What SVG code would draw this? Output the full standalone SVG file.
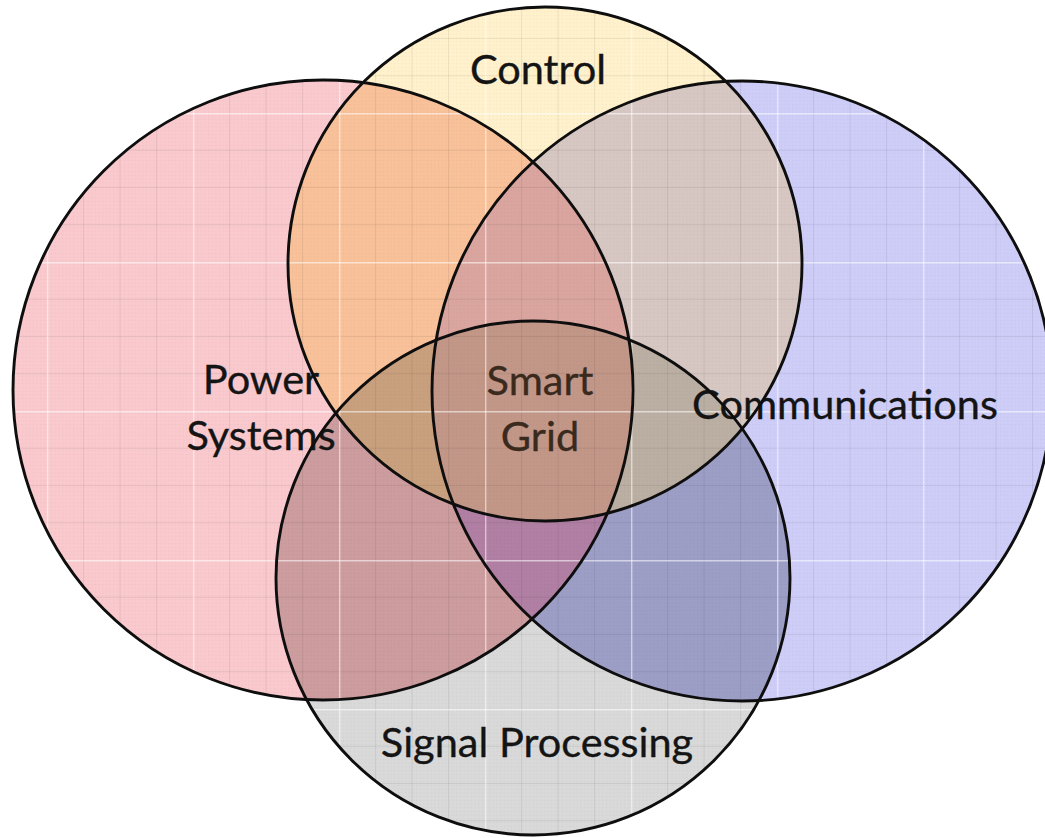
<svg xmlns="http://www.w3.org/2000/svg" width="1045" height="838" viewBox="0 0 1045 838">
  <style>
    .lbl { font-family: Lato, "Open Sans", "Liberation Sans", sans-serif; font-size: 41.5px; fill: #141414; text-anchor: middle; stroke: #141414; stroke-width: 0.35; }
    .core { fill: #3a2a1e; stroke: #3a2a1e; }
    .ring { fill: none; stroke: #0e0e0e; stroke-width: 2.9; }
  </style>
  <defs>
    <!-- the four sets -->
    <circle id="setP" cx="323" cy="390" r="310"/>
    <circle id="setB" cx="742" cy="391" r="310"/>
    <circle id="setY" cx="545" cy="264" r="257"/>
    <circle id="setG" cx="533" cy="578" r="257"/>
    <clipPath id="cP"><use href="#setP"/></clipPath>
    <clipPath id="cB"><use href="#setB"/></clipPath>
    <clipPath id="cY"><use href="#setY"/></clipPath>
    <clipPath id="cG"><use href="#setG"/></clipPath>
    <clipPath id="cAll">
      <use href="#setP"/><use href="#setB"/><use href="#setY"/><use href="#setG"/>
    </clipPath>
    <!-- fine paper grid inside the shapes -->
    <pattern id="fineGrid" patternUnits="userSpaceOnUse" width="3.65" height="3.72">
      <rect x="0" y="0" width="1" height="1" fill="#000" fill-opacity="0.05"/>
    </pattern>
    <pattern id="grid" patternUnits="userSpaceOnUse" x="47" y="113" width="146" height="149">
      <g stroke="#000" stroke-opacity="0.07" stroke-width="1">
        <line x1="36.5" y1="0" x2="36.5" y2="149"/>
        <line x1="73" y1="0" x2="73" y2="149"/>
        <line x1="109.5" y1="0" x2="109.5" y2="149"/>
        <line x1="0" y1="37.25" x2="146" y2="37.25"/>
        <line x1="0" y1="74.5" x2="146" y2="74.5"/>
        <line x1="0" y1="111.75" x2="146" y2="111.75"/>
      </g>
      <g stroke="#fff" stroke-opacity="0.55" stroke-width="1.4">
        <line x1="0.7" y1="0" x2="0.7" y2="149"/>
        <line x1="0" y1="0.7" x2="146" y2="0.7"/>
      </g>
    </pattern>
  </defs>

  <rect width="1045" height="838" fill="#fff"/>

  <!-- region fills, painted from single sets up to the four-way overlap -->
  <g id="fills">
    <g id="single">
      <use href="#setP" fill="#F9C9CD"/>
      <use href="#setB" fill="#CDCDF8"/>
      <use href="#setY" fill="#FFF1CC"/>
      <use href="#setG" fill="#D9D9D9"/>
    </g>
    <g id="pairs">
      <g clip-path="url(#cP)"><use href="#setY" fill="#F8C199"/></g>
      <g clip-path="url(#cB)"><use href="#setY" fill="#D7C7C3"/></g>
      <g clip-path="url(#cP)"><use href="#setG" fill="#CC9C9E"/></g>
      <g clip-path="url(#cB)"><use href="#setG" fill="#9D9EC6"/></g>
    </g>
    <g id="triples">
      <g clip-path="url(#cP)"><g clip-path="url(#cB)"><use href="#setY" fill="#DAA59F"/></g></g>
      <g clip-path="url(#cP)"><g clip-path="url(#cY)"><use href="#setG" fill="#C8A07E"/></g></g>
      <g clip-path="url(#cB)"><g clip-path="url(#cY)"><use href="#setG" fill="#BBAFA3"/></g></g>
      <g clip-path="url(#cP)"><g clip-path="url(#cB)"><use href="#setG" fill="#B07FA3"/></g></g>
    </g>
    <g id="core" clip-path="url(#cP)">
      <g clip-path="url(#cB)"><g clip-path="url(#cY)"><use href="#setG" fill="#C29788"/></g></g>
    </g>
  </g>

  <g id="texture" clip-path="url(#cAll)">
    <rect width="1045" height="838" fill="url(#grid)"/>
    <rect width="1045" height="838" fill="url(#fineGrid)"/>
  </g>

  <g id="labels">
    <g id="power-systems">
      <text class="lbl" x="261" y="394">Power</text>
      <text class="lbl" x="261" y="450">Systems</text>
    </g>
    <g id="control"><text class="lbl" x="538" y="84">Control</text></g>
    <g id="communications"><text class="lbl" x="845" y="419">Communications</text></g>
    <g id="signal-processing"><text class="lbl" x="537" y="757">Signal Processing</text></g>
    <g id="smart-grid">
      <text class="lbl core" x="540" y="395">Smart</text>
      <text class="lbl core" x="540" y="451">Grid</text>
    </g>
  </g>

  <g id="outlines">
    <use href="#setP" class="ring"/>
    <use href="#setB" class="ring"/>
    <use href="#setY" class="ring"/>
    <use href="#setG" class="ring"/>
  </g>
</svg>
